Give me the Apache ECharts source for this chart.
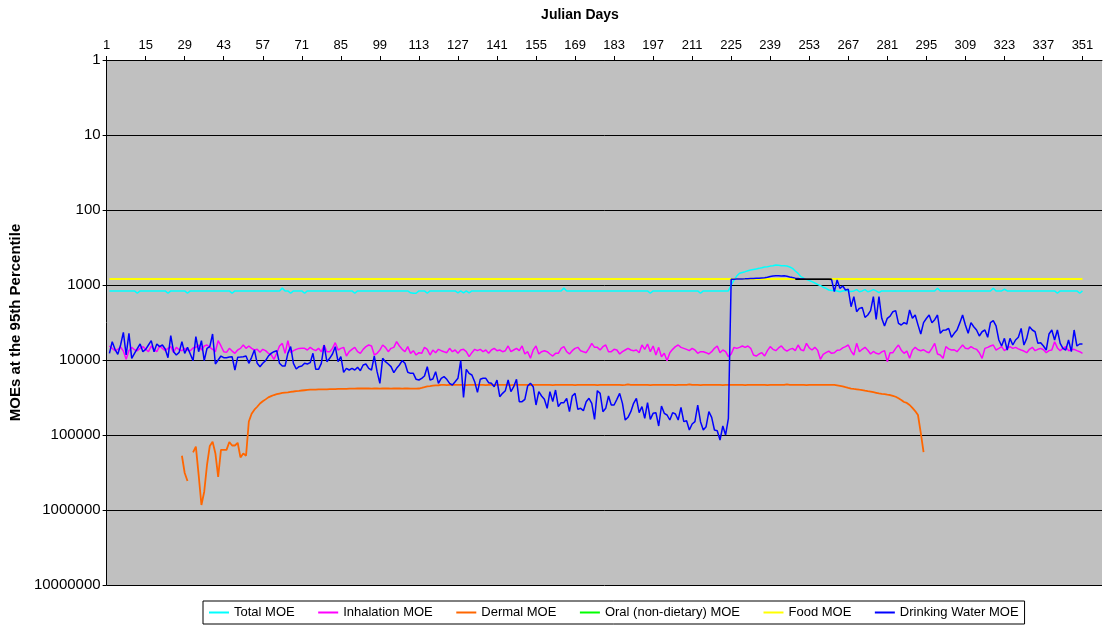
<!DOCTYPE html>
<html>
<head>
<meta charset="utf-8">
<script src="https://cdn.jsdelivr.net/npm/echarts@6/dist/echarts.min.js"></script>
<style>
html,body{margin:0;padding:0;background:#fff;}
#chart{width:1103px;height:626px;}
</style>
</head>
<body>
<div id="chart"></div>
<script>
// ---- data (index 0 = Julian day 1) ----
const seriesNames = ['Total MOE','Inhalation MOE','Dermal MOE','Oral (non-dietary) MOE','Food MOE','Drinking Water MOE'];
const yTicks = [1,10,100,1000,10000,100000,1000000,10000000];

const totalMOE = [
null,1200,1200,1200,1200,1200,1200,1200,1200,1200,
1200,1290,1200,1200,1200,1200,1200,1200,1200,1200,
1200,1200,1290,1200,1200,1200,1200,1200,1200,1290,
1200,1200,1200,1200,1200,1200,1200,1200,1200,1200,
1200,1200,1200,1200,1200,1290,1200,1200,1200,1200,
1200,1200,1200,1200,1200,1200,1200,1200,1200,1200,
1200,1200,1200,1100,1200,1200,1290,1200,1200,1200,
1200,1290,1200,1200,1200,1200,1200,1200,1200,1200,
1200,1200,1200,1200,1200,1200,1200,1200,1200,1290,
1200,1200,1200,1200,1200,1200,1200,1200,1200,1200,
1200,1200,1200,1200,1200,1200,1200,1200,1200,1270,
1290,1290,1200,1200,1200,1290,1200,1200,1200,1200,
1200,1200,1200,1200,1200,1200,1270,1200,1270,1200,
1270,1200,1200,1200,1200,1200,1200,1200,1200,1200,
1200,1200,1200,1200,1200,1200,1200,1200,1200,1200,
1200,1200,1200,1200,1200,1200,1200,1200,1200,1200,
1200,1200,1200,1200,1100,1200,1200,1200,1200,1200,
1200,1200,1200,1200,1200,1200,1200,1200,1200,1200,
1200,1200,1200,1200,1200,1200,1200,1200,1200,1200,
1200,1200,1200,1200,1200,1290,1200,1200,1200,1200,
1200,1200,1200,1200,1200,1200,1200,1200,1200,1200,
1200,1200,1200,1290,1200,1200,1200,1200,1200,1200,
1200,1200,1200,1200,1000,858,760,699,680,664,
645,631,620,610,600,590,575,570,560,555,
541,545,552,552,558,575,600,650,700,774,
810,840,870,903,940,980,1020,1070,1107,1166,
1180,1180,1200,1230,1200,1180,1200,1220,1200,1150,
1230,1200,1150,1230,1200,1150,1200,1265,1200,1200,
1200,1200,1200,1200,1200,1200,1200,1200,1200,1200,
1200,1200,1200,1200,1200,1200,1200,1200,1107,1200,
1200,1200,1200,1200,1200,1200,1200,1200,1200,1200,
1200,1200,1200,1200,1200,1200,1200,1200,1107,1200,
1200,1200,1140,1200,1200,1200,1200,1200,1200,1200,
1200,1200,1200,1200,1200,1200,1200,1200,1200,1200,
1200,1290,1200,1200,1200,1200,1200,1200,1200,1290,
1200];

const inhalationMOE = [
null,6500,7000,7510,7200,6700,7600,9790,7500,6800,
7300,7510,7000,6640,7200,7750,6500,7300,7750,6500,
7000,7510,7000,6640,7910,6780,7300,7510,6990,7400,
7510,6900,6780,6310,7360,6500,6310,6780,7200,7750,
5520,6500,7750,7910,6990,7600,8150,7360,7000,6310,
6990,6500,7000,7360,7210,7910,7210,7500,8150,8500,
9790,8150,6500,6000,8150,5520,7990,7500,7210,7000,
6990,6990,7360,6780,7210,7510,6990,7750,6310,7750,
7750,7000,5880,7360,6990,6780,8850,7750,7210,6780,
7750,8150,7210,6640,6310,6500,8580,8150,7360,6310,
6780,7750,6990,6780,5700,6500,7210,7750,6640,8150,
7510,8580,7990,8150,6780,7210,8580,7360,7990,7210,
7510,7750,7990,6990,7750,7360,8150,7360,7210,7750,
9030,7990,7210,7510,7210,7750,7360,8150,7360,6990,
7510,7360,7750,7510,6500,7750,7360,6990,7510,6500,
8320,7750,9500,7360,6500,8320,7750,7510,7750,8320,
8850,8150,8150,6990,6640,7750,8320,7510,6990,6780,
7510,7750,7990,6990,6000,6780,6780,7360,6640,6310,
7750,7750,7210,7360,8320,7750,7360,6990,7360,7510,
7360,7990,6310,7210,6120,7750,6500,8580,6780,9030,
8150,10200,7990,7210,6640,6310,6780,6990,7210,7510,
6990,7360,8150,7750,7750,7990,8320,7750,6990,6500,
7990,7360,7750,9030,8320,6780,6990,6780,6500,6780,
6500,6990,8580,8850,8320,7990,8850,7500,6640,7200,
7510,6900,6500,7210,7600,7210,7000,7510,6310,7300,
7510,6000,6900,7360,6780,7400,9790,8400,7990,7600,
8150,7990,7400,7360,6900,6640,6310,7600,8580,6000,
7750,7200,6780,7400,8320,7700,8150,8320,7800,7510,
10530,8000,7990,7000,6310,7400,8150,7600,9500,7400,
6780,7300,7510,7300,7750,7990,7000,6000,8320,8580,
9500,6640,7100,7360,7300,7750,7000,6310,6990,7100,
6640,7000,7210,8000,9500,7000,6780,6500,6310,7360,
7000,6640,7510,7000,6640,7000,6780,7100,7360,7600,
7990,7200,6780,7510,7200,6990,7300,7990,7500,7360,
5700,6900,7510,7000,6640,7510,7300,7210,7500,7750,
8150];

const dermalMOE = [
null,null,null,null,null,null,null,null,null,null,
null,null,null,null,null,null,null,null,null,null,
null,null,null,null,null,null,null,189000,321000,410000,
null,170000,143000,340000,858000,570000,251000,140000,123000,175000,
363000,158000,158000,158000,124000,138000,138000,127000,199000,176000,
189000,66000,52000,46000,42000,38000,35500,33500,31500,30300,
29300,28600,28000,27500,27200,27000,26600,26300,26000,25800,
25500,25300,25100,24900,24800,24800,24700,24700,24600,24600,
24500,24400,24400,24300,24200,24200,24200,24100,24100,24100,
24000,24000,24000,24000,24000,24100,24000,24000,24100,24000,
24000,24000,24100,24000,24000,24000,24100,24000,24000,24100,
24100,24100,24000,23500,23000,22500,22300,22000,21800,21700,
21500,21500,21600,21500,21500,21500,21400,21500,21500,21600,
21500,21500,21500,21400,21500,21500,21600,21500,21500,21500,
21500,21400,21500,21500,21500,21600,21500,21500,21400,21500,
21500,21500,21600,21500,21500,21500,21400,21500,21500,21500,
21600,21500,21500,21500,21400,21500,21500,21500,21600,21500,
21500,21500,21400,21500,21500,21500,21600,21500,21500,21500,
21500,21400,21500,21500,21500,21600,21500,21200,21500,21500,
21500,21500,21400,21500,21500,21600,21500,21500,21500,21500,
21400,21500,21500,21500,21600,21500,21500,21500,21400,21100,
21500,21500,21500,21600,21500,21500,21500,21400,21500,21500,
21500,21600,21500,21500,21500,21400,21500,21500,21500,21600,
21500,21500,21500,21400,21500,21500,21500,21600,21500,21500,
21500,21400,21500,21500,21200,21500,21500,21500,21500,21500,
21500,21600,21500,21500,21500,21400,21500,21500,21500,21500,
21500,21500,21800,22100,22400,23000,23500,24000,24300,24600,
24900,25200,25600,26000,26400,26900,27400,27900,28300,28600,
29000,29300,30000,30900,32400,34100,36300,37400,39800,43600,
47900,54100,94000,168600,null,null,null,null,null,null,
null,null,null,null,null,null,null,null,null,null,
null,null,null,null,null,null,null,null,null,null,
null,null,null,null,null,null,null,null,null,null,
null,null,null,null,null,null,null,null,null,null,
null,null,null,null,null,null,null,null,null,null,
null];

const oralMOE = [];

const foodMOE = [
null,830,830,830,830,830,830,830,830,830,
830,830,830,830,830,830,830,830,830,830,
830,830,830,830,830,830,830,830,830,830,
830,830,830,830,830,830,830,830,830,830,
830,830,830,830,830,830,830,830,830,830,
830,830,830,830,830,830,830,830,830,830,
830,830,830,830,830,830,830,830,830,830,
830,830,830,830,830,830,830,830,830,830,
830,830,830,830,830,830,830,830,830,830,
830,830,830,830,830,830,830,830,830,830,
830,830,830,830,830,830,830,830,830,830,
830,830,830,830,830,830,830,830,830,830,
830,830,830,830,830,830,830,830,830,830,
830,830,830,830,830,830,830,830,830,830,
830,830,830,830,830,830,830,830,830,830,
830,830,830,830,830,830,830,830,830,830,
830,830,830,830,830,830,830,830,830,830,
830,830,830,830,830,830,830,830,830,830,
830,830,830,830,830,830,830,830,830,830,
830,830,830,830,830,830,830,830,830,830,
830,830,830,830,830,830,830,830,830,830,
830,830,830,830,830,830,830,830,830,830,
830,830,830,830,830,830,830,830,830,830,
830,830,830,830,830,830,830,830,830,830,
830,830,830,830,830,830,830,830,830,830,
830,830,830,830,830,830,830,830,830,830,
830,830,830,830,830,830,830,830,830,830,
830,830,830,830,830,830,830,830,830,830,
830,830,830,830,830,830,830,830,830,830,
830,830,830,830,830,830,830,830,830,830,
830,830,830,830,830,830,830,830,830,830,
830,830,830,830,830,830,830,830,830,830,
830,830,830,830,830,830,830,830,830,830,
830,830,830,830,830,830,830,830,830,830,
830,830,830,830,830,830,830,830,830,830,
830];

const drinkingWaterMOE = [
null,8150,5700,7210,8400,6310,4275,8580,4410,9500,
8150,7060,6120,7750,7210,6310,5520,7750,6120,6640,
6310,7130,9310,4735,7750,8580,7910,5700,8150,6780,
8320,10200,4885,7750,5520,10200,6990,6640,4500,11300,
10000,8850,9310,9310,9120,9030,13590,9210,9120,9030,
8850,11070,9210,7360,11070,12270,11070,10200,8850,8150,
7750,7510,11070,12020,12020,8150,6640,11070,13180,12270,
12020,11070,11300,10860,8150,13310,13310,11070,6310,10520,
9500,8320,6640,10520,9030,14600,12910,13590,12910,13590,
12530,13870,11660,11300,12910,13590,8850,14310,20470,9500,
10520,11300,12270,14750,12910,11660,10200,11070,14600,15060,
15060,18100,18480,17540,16340,12270,18480,17900,14310,20470,
17540,16680,18100,20470,21540,19450,17540,10200,31470,13310,
15060,15850,19450,26980,18100,17540,17540,20060,20470,22680,
18480,30830,27830,25650,18480,26440,22680,18100,35940,35940,
33440,22220,20470,22680,39810,26440,30200,33440,44090,26440,
35940,25120,41900,37070,37070,32430,48860,30200,27830,45460,
44090,47400,35940,32430,37840,61800,25650,27830,48860,44090,
30200,39810,39810,33440,27830,37840,63100,58090,48860,37840,
32430,50370,41900,59950,37070,61800,51410,50370,75860,41050,
51410,54120,63100,50370,52480,63100,42770,66410,64420,85770,
71290,66410,39810,66410,85770,77430,48860,58090,85770,87550,
116590,75860,100000,59950,840,835,832,832,830,828,
825,820,820,815,810,805,800,790,770,760,
755,752,760,755,765,780,795,810,820,830,
832,835,835,838,840,840,840,840,840,840,
845,1227,858,1107,1030,1166,1142,1946,1431,2268,
2047,1986,2698,2512,2200,1431,2870,1431,2783,3522,
2783,2600,2268,2198,3246,3415,3178,3311,2154,2783,
2512,3400,4497,3178,2800,2512,3178,2900,2512,4406,
4000,3981,3785,4986,4406,3981,3200,2512,3415,4406,
3178,3600,3981,4782,4200,3981,4986,3178,2991,3500,
5412,6506,5143,7356,5143,6310,5412,4986,3785,6310,
5143,3594,3981,4200,5995,5874,6500,7356,4497,3981,
5412,3981,5995,6988,7356,5412,7743,3981,6506,6120,
6120];

// unlabeled dark trace visible in the reference (days 248-261)
const darkTraceDays = [248,249,250,251,252,253,254,255,256,257,258,259,260,261];
const darkTraceMOE  = [840,840,840,840,840,840,840,840,840,840,840,840,840,840];

// ---- categories ----
const days = [];
for (let d = 1; d <= 358; d++) days.push(String(d));

const darkTrace = days.map(() => null);
darkTraceDays.forEach((d, i) => { darkTrace[d - 1] = darkTraceMOE[i]; });

const FONT = 'Liberation Sans, Arial, sans-serif';
const chart = echarts.init(document.getElementById('chart'), null, {renderer: 'canvas'});

function lineSeries(name, data, color, width, z) {
  return {
    name: name, type: 'line', data: data, symbol: 'none', showSymbol: false,
    connectNulls: false, animation: false, z: z,
    lineStyle: {color: color, width: width}, itemStyle: {color: color},
    emphasis: {disabled: true}
  };
}

chart.setOption({
  backgroundColor: '#ffffff',
  animation: false,
  grid: {left: 105, right: 1, top: 60, bottom: 41, show: true,
         backgroundColor: '#C0C0C0', borderWidth: 0},
  graphic: [{
    type: 'text', x: 580, y: 15,
    style: {text: 'Julian Days', align: 'center', verticalAlign: 'middle',
            font: 'bold 14px ' + FONT, fill: '#000'}
  }],
  xAxis: {
    type: 'category', position: 'top', data: days, boundaryGap: false,
    axisLine: {show: true, lineStyle: {color: '#000', width: 1}},
    axisTick: {show: true, interval: 13, length: 4, lineStyle: {color: '#000'}},
    axisLabel: {interval: 13, color: '#000', fontSize: 13, fontFamily: FONT, margin: 8},
    splitLine: {show: false}
  },
  yAxis: {
    type: 'log', logBase: 10, min: 1, max: 10000000, inverse: true,
    name: 'MOEs at the 95th Percentile', nameLocation: 'middle', nameGap: 82,
    nameRotate: 90,
    nameTextStyle: {fontWeight: 'bold', fontSize: 15, fontFamily: FONT, color: '#000'},
    axisLine: {show: true, lineStyle: {color: '#000', width: 1}},
    axisTick: {show: true, length: 4, lineStyle: {color: '#000'}},
    axisLabel: {color: '#000', fontSize: 15, fontFamily: FONT, margin: 6,
                formatter: v => String(Math.round(v))},
    splitLine: {show: true, lineStyle: {color: '#000', width: 1}},
    minorTick: {show: false}
  },
  legend: {
    data: seriesNames, left: 203, top: 601, orient: 'horizontal',
    backgroundColor: '#fff', borderColor: '#000', borderWidth: 1,
    padding: [5, 6], itemGap: 23.5, itemWidth: 20, itemHeight: 2, icon: 'rect',
    textStyle: {color: '#000', fontSize: 13, fontFamily: FONT}
  },
  series: [
    lineSeries(seriesNames[0], totalMOE, '#00FFFF', 1.5, 2),
    lineSeries(seriesNames[1], inhalationMOE, '#FF00FF', 1.5, 3),
    lineSeries(seriesNames[2], dermalMOE, '#FF6600', 1.8, 4),
    lineSeries(seriesNames[3], oralMOE, '#00FF00', 1.5, 5),
    lineSeries(seriesNames[4], foodMOE, '#FFFF00', 2, 6),
    lineSeries(seriesNames[5], drinkingWaterMOE, '#0000FF', 1.5, 7),
    lineSeries('', darkTrace, '#000000', 1.5, 8)
  ]
});
</script>
</body>
</html>
